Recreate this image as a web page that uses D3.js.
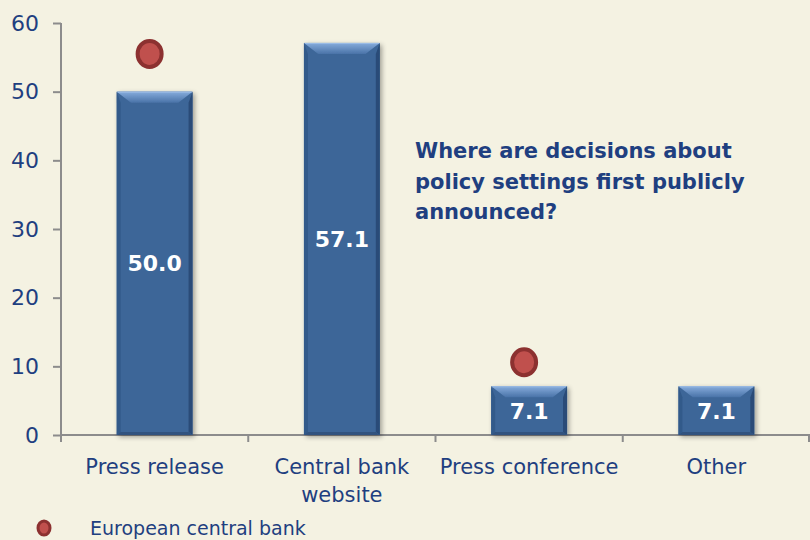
<!DOCTYPE html>
<html>
<head>
<meta charset="utf-8">
<script src="https://cdn.jsdelivr.net/npm/d3@7"></script>
<style>
  html, body { margin: 0; padding: 0; background: #F4F2E2; }
  svg { display: block; }
</style>
</head>
<body>
<svg id="chart" width="810" height="540"></svg>
<script>
// Where policy decisions are first announced (share of respondents, %)
const categories = ["Press release", "Central bank\nwebsite", "Press conference", "Other"];
const values = [50.0, 57.1, 7.1, 7.1];
// European central bank marker, shown above the channels it uses
const ecbValues = [55.5, null, 10.6, null];
const yTicks = [0, 10, 20, 30, 40, 50, 60];
const titleLines = ["Where are decisions about", "policy settings first publicly", "announced?"];
const legendLabel = "European central bank";

const textColor = "#1F3F80";
const barColor = "#3D6698";
const axisColor = "#8C8C8C";
const font = "Tahoma, 'DejaVu Sans', Verdana, sans-serif";

const svg = d3.select("#chart");
const margin = { left: 61, right: 0, top: 23, bottom: 105 };
const W = 810, H = 540;

const x = d3.scaleBand().domain(d3.range(categories.length))
  .range([margin.left, W - margin.right]).paddingInner(0.595).paddingOuter(0.2975);
const xOuter = d3.scaleBand().domain(d3.range(categories.length))
  .range([margin.left, W - margin.right]);
const y = d3.scaleLinear().domain([0, 60]).range([H - margin.bottom, margin.top]);

const defs = svg.append("defs");
const shadow = defs.append("filter").attr("id", "shadow")
  .attr("x", "-20%").attr("y", "-20%").attr("width", "140%").attr("height", "140%");
shadow.append("feGaussianBlur").attr("in", "SourceAlpha").attr("stdDeviation", 2.5);
shadow.append("feOffset").attr("dx", 2).attr("dy", 2).attr("result", "b");
shadow.append("feComponentTransfer").append("feFuncA").attr("type", "linear").attr("slope", 0.35);
const merge = shadow.append("feMerge");
merge.append("feMergeNode");
merge.append("feMergeNode").attr("in", "SourceGraphic");

const topGrad = defs.append("linearGradient").attr("id", "topBevel")
  .attr("x1", 0).attr("y1", 0).attr("x2", 0).attr("y2", 1);
topGrad.append("stop").attr("offset", 0).attr("stop-color", "#86ACDC");
topGrad.append("stop").attr("offset", 1).attr("stop-color", "#4A73A8");

// y axis
const yAxis = svg.append("g").attr("transform", `translate(${margin.left},0)`)
  .call(d3.axisLeft(y).tickValues(yTicks).tickSize(8).tickPadding(14));
yAxis.select(".domain").attr("stroke", axisColor).attr("stroke-width", 2)
  .attr("d", `M0,${y(60)}V${y(0)}`);
yAxis.selectAll(".tick line").attr("stroke", axisColor).attr("stroke-width", 2);
yAxis.selectAll(".tick text").attr("fill", textColor)
  .style("font-family", font).style("font-size", "22px");

// x axis
const xAxis = svg.append("g").attr("transform", `translate(0,${y(0)})`);
xAxis.append("line").attr("x1", margin.left).attr("x2", W).attr("y1", 0).attr("y2", 0)
  .attr("stroke", axisColor).attr("stroke-width", 2);
xAxis.selectAll("line.tk").data(d3.range(categories.length + 1)).join("line")
  .attr("class", "tk")
  .attr("x1", d => d < categories.length ? xOuter(d) : W - 1)
  .attr("x2", d => d < categories.length ? xOuter(d) : W - 1)
  .attr("y1", 0).attr("y2", 7).attr("stroke", axisColor).attr("stroke-width", 2);

const catLabels = svg.append("g");
categories.forEach((c, i) => {
  const t = catLabels.append("text")
    .attr("x", x(i) + x.bandwidth() / 2).attr("y", y(0) + 39)
    .attr("text-anchor", "middle").attr("fill", textColor)
    .style("font-family", font).style("font-size", "21px");
  c.split("\n").forEach((line, k) => {
    t.append("tspan").attr("x", x(i) + x.bandwidth() / 2).attr("dy", k ? 28 : 0).text(line);
  });
});

// bars with bevelled edges
const bw = x.bandwidth();
const bev = 11;
const bars = svg.append("g").selectAll("g.bar").data(values).join("g")
  .attr("class", "bar").attr("filter", "url(#shadow)");
bars.append("rect")
  .attr("x", (d, i) => x(i)).attr("y", d => y(d))
  .attr("width", bw).attr("height", d => y(0) - y(d)).attr("fill", barColor);
// left side
bars.append("path").attr("fill", "#335A8A")
  .attr("d", (d, i) => `M${x(i)},${y(d)}L${x(i) + 4},${y(d) + bev}L${x(i) + 4},${y(0) - 3}L${x(i)},${y(0)}Z`);
// right side
bars.append("path").attr("fill", "#2A4C78")
  .attr("d", (d, i) => `M${x(i) + bw},${y(d)}L${x(i) + bw - 4},${y(d) + bev}L${x(i) + bw - 4},${y(0) - 3}L${x(i) + bw},${y(0)}Z`);
// bottom edge
bars.append("path").attr("fill", "#30537F")
  .attr("d", (d, i) => `M${x(i)},${y(0)}L${x(i) + 4},${y(0) - 3}L${x(i) + bw - 4},${y(0) - 3}L${x(i) + bw},${y(0)}Z`);
// top bevel
bars.append("path").attr("fill", "url(#topBevel)")
  .attr("d", (d, i) => `M${x(i)},${y(d)}L${x(i) + bw},${y(d)}L${x(i) + bw - bev * 1.3},${y(d) + bev}L${x(i) + bev * 1.3},${y(d) + bev}Z`);
bars.append("line").attr("stroke", "#9DBDE6").attr("stroke-width", 1)
  .attr("x1", (d, i) => x(i) + 1).attr("x2", (d, i) => x(i) + bw - 1)
  .attr("y1", d => y(d) + 0.5).attr("y2", d => y(d) + 0.5);

// value labels centered in each bar
svg.append("g").selectAll("text").data(values).join("text")
  .attr("x", (d, i) => x(i) + bw / 2)
  .attr("y", d => (y(d) + y(0)) / 2)
  .attr("dy", "0.36em").attr("text-anchor", "middle")
  .attr("fill", "#FFFFFF").style("font-family", font)
  .style("font-size", "22px").style("font-weight", "bold")
  .text(d => d.toFixed(1));

// European central bank markers
const ecb = ecbValues.map((v, i) => ({ v, i })).filter(d => d.v != null);
svg.append("g").selectAll("ellipse").data(ecb).join("ellipse")
  .attr("cx", d => x(d.i) + bw / 2 - 5).attr("cy", d => y(d.v))
  .attr("rx", 12).attr("ry", 13)
  .attr("fill", "#C0504D").attr("stroke", "#8C3130").attr("stroke-width", 4);

// annotation
const title = svg.append("text").attr("x", 415).attr("y", 158)
  .attr("fill", textColor).style("font-family", font)
  .style("font-size", "21px").style("font-weight", "bold");
titleLines.forEach((l, k) => title.append("tspan").attr("x", 415).attr("dy", k ? 30.5 : 0).text(l));

// legend
svg.append("ellipse").attr("cx", 44).attr("cy", 528).attr("rx", 6).attr("ry", 7)
  .attr("fill", "#C0504D").attr("stroke", "#8C3130").attr("stroke-width", 3);
svg.append("text").attr("x", 90).attr("y", 535)
  .attr("fill", textColor).style("font-family", font).style("font-size", "19px")
  .text(legendLabel);
</script>
</body>
</html>
